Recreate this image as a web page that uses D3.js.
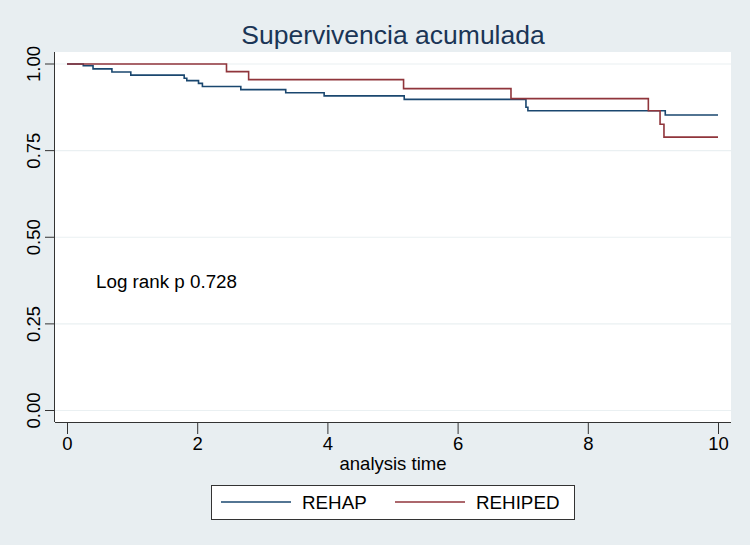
<!DOCTYPE html>
<html>
<head>
<meta charset="utf-8">
<script src="https://cdn.jsdelivr.net/npm/d3@7"></script>
<style>
  body { margin: 0; background: #e8eef1; }
  svg { display: block; font-family: "Liberation Sans", Arial, sans-serif; }
</style>
</head>
<body>
<svg id="chart" width="750" height="545"></svg>
<script>
// Kaplan-Meier steps: [time, survival after the step]
const rehapSteps = [
  [0, 1.0], [0.25, 0.995], [0.40, 0.986], [0.69, 0.977], [0.98, 0.968],
  [1.80, 0.959], [1.84, 0.952], [2.02, 0.944], [2.08, 0.935], [2.67, 0.926],
  [3.36, 0.917], [3.95, 0.908], [5.18, 0.898], [7.05, 0.875], [7.08, 0.865],
  [9.19, 0.853], [10.0, 0.853]
];
const rehipedSteps = [
  [0, 1.0], [2.45, 0.978], [2.79, 0.955], [5.17, 0.929], [6.82, 0.900],
  [8.93, 0.865], [9.11, 0.826], [9.17, 0.789], [10.0, 0.789]
];
const xTicks = [0, 2, 4, 6, 8, 10];
const yTicks = [0, 0.25, 0.5, 0.75, 1];
const seriesNames = ["REHAP", "REHIPED"];
const seriesColors = ["#1a476f", "#90353b"];

const svg = d3.select("#chart");
const plot = { left: 55, right: 731, top: 52, bottom: 422 };

const x = d3.scaleLinear().domain([0, 10]).range([67, 718]);
const y = d3.scaleLinear().domain([0, 1]).range([410.5, 64]);

// background
svg.append("rect").attr("width", 750).attr("height", 545).attr("fill", "#e8eef1");
svg.append("rect")
  .attr("x", plot.left).attr("y", plot.top)
  .attr("width", plot.right - plot.left).attr("height", plot.bottom - plot.top)
  .attr("fill", "#ffffff");

// gridlines
svg.append("g")
  .selectAll("line")
  .data(yTicks)
  .join("line")
  .attr("x1", plot.left).attr("x2", plot.right)
  .attr("y1", (d) => y(d)).attr("y2", (d) => y(d))
  .attr("stroke", "#eaf0f2")
  .attr("stroke-width", 1.2);

// title
svg.append("text")
  .attr("x", 393).attr("y", 44)
  .attr("text-anchor", "middle")
  .attr("font-size", 26.5)
  .attr("fill", "#1a3556")
  .text("Supervivencia acumulada");

// axes
const xAxis = d3.axisBottom(x).tickValues(xTicks).tickSize(12).tickPadding(3);
const gx = svg.append("g")
  .attr("transform", `translate(0, ${plot.bottom})`)
  .call(xAxis);
gx.select(".domain").attr("d", `M${plot.left},0.5H${plot.right}`);
gx.selectAll("text").attr("font-size", 18.5).attr("fill", "#000").attr("font-family", "Liberation Sans, Arial, sans-serif");
gx.selectAll("line").attr("stroke", "#333");
gx.select(".domain").attr("stroke", "#333");

const yAxis = d3.axisLeft(y).tickValues(yTicks).tickFormat(d3.format(".2f")).tickSize(10).tickPadding(6);
const gy = svg.append("g")
  .attr("transform", `translate(${plot.left}, 0)`)
  .call(yAxis);
gy.select(".domain").attr("d", `M-0.5,${plot.top}V${plot.bottom}`).attr("stroke", "#333");
gy.selectAll("line").attr("stroke", "#333");
gy.selectAll("text")
  .attr("font-size", 18.5)
  .attr("fill", "#000")
  .attr("font-family", "Liberation Sans, Arial, sans-serif")
  .attr("text-anchor", "middle")
  .attr("x", 0).attr("dy", 0)
  .attr("transform", (d) => `translate(-15, ${y(d)}) rotate(-90)`)
  .attr("y", 0);
gy.selectAll(".tick").attr("transform", "translate(0,0)");
gy.selectAll(".tick line").attr("y1", (d) => y(d)).attr("y2", (d) => y(d));

svg.append("text")
  .attr("x", 393).attr("y", 470)
  .attr("text-anchor", "middle")
  .attr("font-size", 18.5)
  .text("analysis time");

// curves
const line = d3.line()
  .x((d) => x(d[0]))
  .y((d) => y(d[1]))
  .curve(d3.curveStepAfter);

[rehapSteps, rehipedSteps].forEach((steps, i) => {
  svg.append("path")
    .datum(steps)
    .attr("d", line)
    .attr("fill", "none")
    .attr("stroke", seriesColors[i])
    .attr("stroke-width", 1.6);
});

svg.append("text")
  .attr("x", 96).attr("y", 288)
  .attr("font-size", 18.8)
  .text("Log rank p 0.728");

// legend
const legend = svg.append("g");
legend.append("rect")
  .attr("x", 211.5).attr("y", 485.5)
  .attr("width", 363).attr("height", 34)
  .attr("fill", "#fff")
  .attr("stroke", "#333");
const legendX = [221, 395];
seriesNames.forEach((name, i) => {
  legend.append("line")
    .attr("x1", legendX[i]).attr("x2", legendX[i] + 70)
    .attr("y1", 502).attr("y2", 502)
    .attr("stroke", seriesColors[i])
    .attr("stroke-width", 1.4);
  legend.append("text")
    .attr("x", legendX[i] + 81).attr("y", 509)
    .attr("font-size", 18.8)
    .text(name);
});
</script>
</body>
</html>
